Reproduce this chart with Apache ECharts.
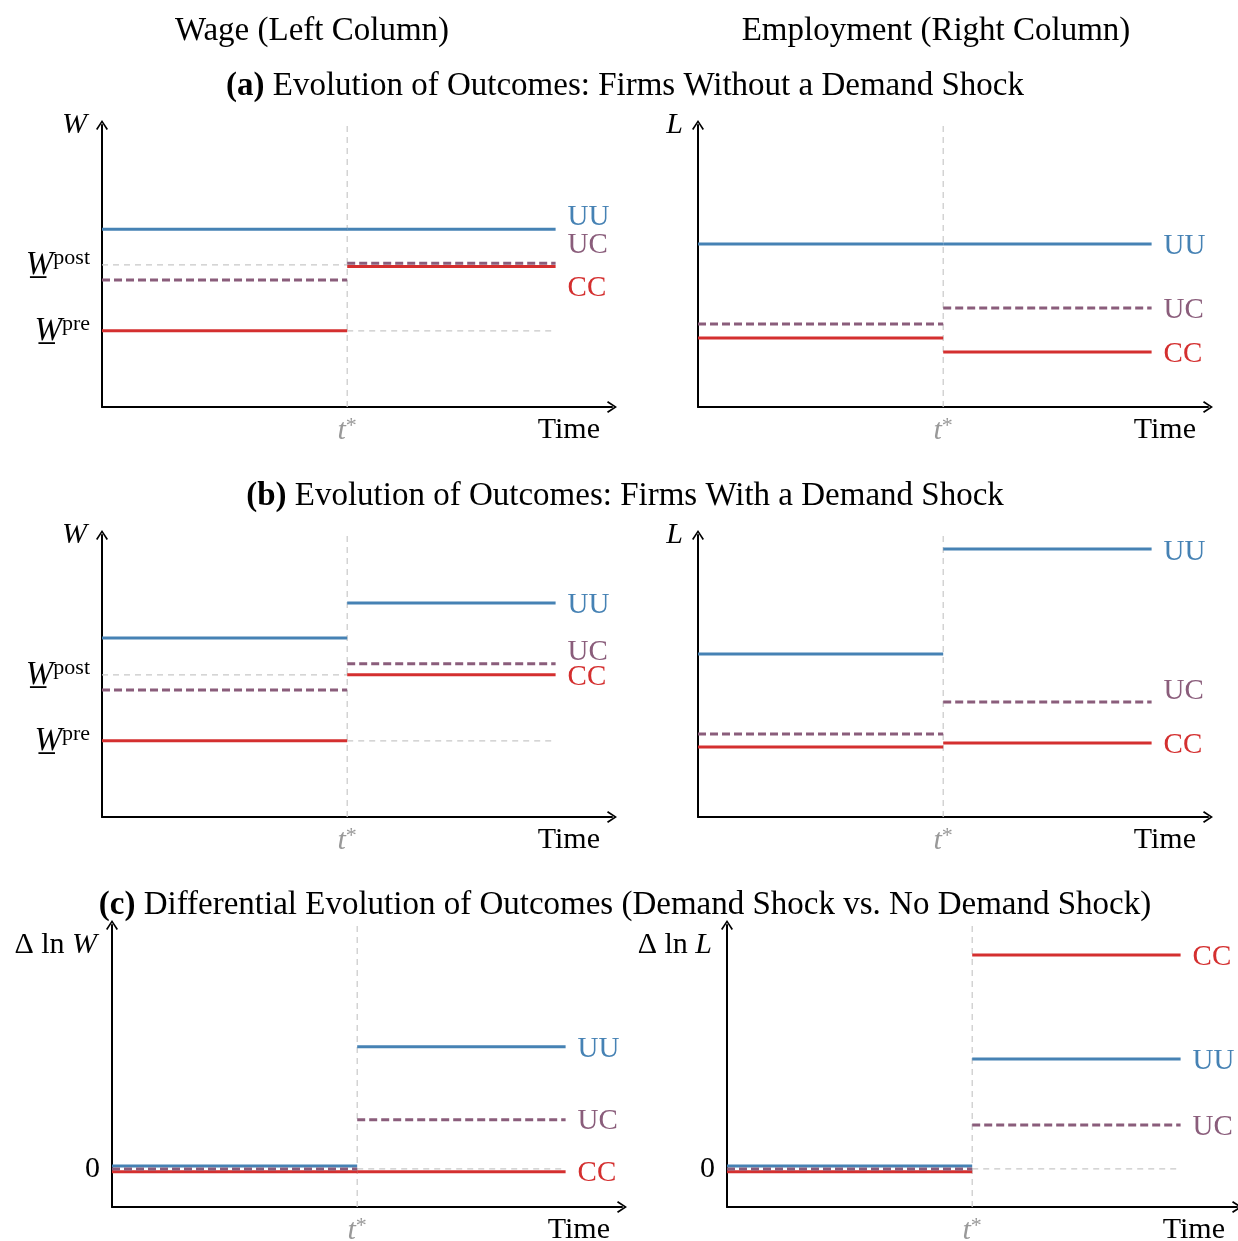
<!DOCTYPE html>
<html><head><meta charset="utf-8">
<script src="https://cdn.jsdelivr.net/npm/echarts@6/dist/echarts.min.js"></script>
<style>html,body{margin:0;padding:0;background:#fff}#c{width:1238px;height:1241px}</style>
</head><body><div id="c"></div>
<script>
// ---------- DATA ----------
// time positions: start, treatment date t*, end of drawn lines, end of axis
const tStart = 0, tStar = 1, tEnd = 1.85, tAxisMax = 2.08;
const lineNames = ['UU', 'UC', 'CC'];
// Each array: [pre-t* level, post-t* level]
// (a) firms without a demand shock
const wageNoShockUU = [6.3, 6.3];
const wageNoShockUC = [4.5, 5.1];
const wageNoShockCC = [2.7, 4.98];
const wageNoShockRef = [2.7, 5.04];   // W_pre, W_post
const empNoShockUU = [5.78, 5.78];
const empNoShockUC = [2.94, 3.51];
const empNoShockCC = [2.45, 1.95];
// (b) firms with a demand shock
const wageShockUU = [6.35, 7.59];
const wageShockUC = [4.5, 5.43];
const wageShockCC = [2.7, 5.04];
const wageShockRef = [2.7, 5.04];     // W_pre, W_post
const empShockUU = [5.78, 9.5];
const empShockUC = [2.94, 4.08];
const empShockCC = [2.48, 2.62];
// (c) differential evolution
const wageDiffUU = [0.1, 4.33];
const wageDiffUC = [0, 1.74];
const wageDiffCC = [-0.1, -0.1];
const empDiffUU = [0.1, 3.9];
const empDiffUC = [0, 1.56];
const empDiffCC = [-0.1, 7.59];
const zeroRef = [0];
// titles
const colTitles = ['Wage (Left Column)', 'Employment (Right Column)'];
const panelTitles = [
  ['(a)', ' Evolution of Outcomes: Firms Without a Demand Shock'],
  ['(b)', ' Evolution of Outcomes: Firms With a Demand Shock'],
  ['(c)', ' Differential Evolution of Outcomes (Demand Shock vs. No Demand Shock)']
];

// ---------- STYLE ----------
const FONT = '"Liberation Serif", "Times New Roman", serif';
const COL = { UU: '#4682b4', UC: '#8a5d7b', CC: '#d42f2f' };
const GREY = '#c8c8c8';
const ARROW = 'path://M0,9 L6,0 L12,9 L10.6,10 L6,2.8 L1.4,10 Z';
const LBL = 29;
const TFS = 33;

const panels = [
  { left: 102, top: 125, ymin: 0, ymax: 10, name: '{i|W}', nameGap: 0, vals: { UU: wageNoShockUU, UC: wageNoShockUC, CC: wageNoShockCC },
    wref: wageNoShockRef, dy: { UU: -12, UC: -18, CC: 22 } },
  { left: 698, top: 125, ymin: 0, ymax: 10, name: '{i|L}', nameGap: 0, vals: { UU: empNoShockUU, UC: empNoShockUC, CC: empNoShockCC },
    dy: { UU: 2, UC: 2, CC: 2 } },
  { left: 102, top: 535, ymin: 0, ymax: 10, name: '{i|W}', nameGap: 0, vals: { UU: wageShockUU, UC: wageShockUC, CC: wageShockCC },
    wref: wageShockRef, dy: { UU: 2, UC: -11, CC: 3 } },
  { left: 698, top: 535, ymin: 0, ymax: 10, name: '{i|L}', nameGap: 0, vals: { UU: empShockUU, UC: empShockUC, CC: empShockCC },
    dy: { UU: 3, UC: -11, CC: 2 } },
  { left: 112, top: 925, ymin: -1.35, ymax: 8.65, name: '{u|Δ ln }{i|W}', nameGap: -20, vals: { UU: wageDiffUU, UC: wageDiffUC, CC: wageDiffCC },
    zero: true, dy: { UU: 3, UC: 2, CC: 2 } },
  { left: 727, top: 925, ymin: -1.35, ymax: 8.65, name: '{u|Δ ln }{i|L}', nameGap: -20, vals: { UU: empDiffUU, UC: empDiffUC, CC: empDiffCC },
    zero: true, dy: { UU: 2, UC: 2, CC: 2 } }
];

const richBase = {
  i: { fontFamily: FONT, fontSize: LBL + 1, fontStyle: 'italic', color: '#000' },
  u: { fontFamily: FONT, fontSize: LBL + 1, color: '#000' },
  w: { fontFamily: FONT, fontSize: 33, fontStyle: 'italic', color: '#000', lineHeight: 36 },
  s: { fontFamily: FONT, fontSize: 22, color: '#000', verticalAlign: 'top', lineHeight: 24 },
  t: { fontFamily: FONT, fontSize: LBL + 1, fontStyle: 'italic', color: '#999', lineHeight: 32 },
  st: { fontFamily: FONT, fontSize: 22, color: '#999', verticalAlign: 'top', lineHeight: 24 }
};

const grids = [], xAxes = [], yAxes = [], series = [];
panels.forEach((p, i) => {
  grids.push({ left: p.left, top: p.top, width: 510, height: 282, containLabel: false, outerBoundsMode: 'none' });
  const axisLine = { onZero: false, lineStyle: { color: '#000', width: 2 }, symbol: ['none', ARROW], symbolSize: [13, 10] };
  xAxes.push({
    gridIndex: i, type: 'value', min: 0, max: tAxisMax, splitLine: { show: false }, axisTick: { show: false }, axisLine,
    axisLabel: { customValues: [tStar], formatter: () => '{t|t}{st|*}', margin: 8, rich: richBase },
    name: 'Time', nameLocation: 'end', nameGap: -12,
    nameTextStyle: { align: 'right', verticalAlign: 'top', padding: [8, 0, 0, 0], fontFamily: FONT, fontSize: LBL + 1, color: '#000' }
  });
  let labelVals = [], fmt = () => '';
  if (p.wref) {
    labelVals = p.wref.slice();
    fmt = v => (Math.abs(v - p.wref[1]) < 1e-9 ? '{w|W\u0332}{s|post}' : '{w|W\u0332}{s|pre}');
  } else if (p.zero) {
    labelVals = zeroRef.slice();
    fmt = () => '{u|0}';
  }
  yAxes.push({
    gridIndex: i, type: 'value', min: p.ymin, max: p.ymax, splitLine: { show: false }, axisTick: { show: false }, axisLine,
    axisLabel: { show: labelVals.length > 0, customValues: labelVals, formatter: fmt, margin: 12, rich: richBase },
    name: p.name, nameLocation: 'end', nameGap: p.nameGap,
    nameTextStyle: { align: 'right', verticalAlign: 'middle', padding: [0, 15, 0, 0], rich: richBase }
  });
  const ref = (data) => ({
    type: 'line', xAxisIndex: i, yAxisIndex: i, data, symbol: 'none', silent: true, animation: false, z: 1,
    lineStyle: { color: GREY, width: 1.2, type: [6, 5] }
  });
  // vertical t* line
  series.push(ref([[tStar, p.ymin], [tStar, p.ymax]]));
  if (p.wref) {
    series.push(ref([[tStart, p.wref[1]], [tStar, p.wref[1]]]));
    series.push(ref([[tStar, p.wref[0]], [tEnd, p.wref[0]]]));
  }
  if (p.zero) series.push(ref([[tStar, zeroRef[0]], [tEnd, zeroRef[0]]]));
  ['UU', 'CC', 'UC'].forEach(k => {
    const v = p.vals[k];
    const ls = { color: COL[k], width: 3, type: k === 'UC' ? [8, 4] : 'solid' };
    series.push({ type: 'line', name: k, xAxisIndex: i, yAxisIndex: i, data: [[tStart, v[0]], [tStar, v[0]]],
      symbol: 'none', showSymbol: false, silent: true, animation: false, z: 3, lineStyle: ls });
    series.push({ type: 'line', name: k, xAxisIndex: i, yAxisIndex: i, data: [[tStar, v[1]], [tEnd, v[1]]],
      symbol: 'none', showSymbol: false, silent: true, animation: false, z: 3, lineStyle: ls,
      endLabel: { show: true, formatter: k, color: COL[k], fontFamily: FONT, fontSize: LBL, distance: 12, offset: [0, p.dy[k]] } });
  });
});

const graphic = [
  { type: 'text', x: 312, y: 31, style: { text: colTitles[0], fontFamily: FONT, fontSize: TFS, fill: '#000', align: 'center', verticalAlign: 'middle' } },
  { type: 'text', x: 936, y: 31, style: { text: colTitles[1], fontFamily: FONT, fontSize: TFS, fill: '#000', align: 'center', verticalAlign: 'middle' } }
];
const titleY = [86, 496, 905];
panelTitles.forEach((t, j) => {
  graphic.push({ type: 'text', x: 625, y: titleY[j], style: {
    text: '{b|' + t[0] + '}{r|' + t[1] + '}', align: 'center', verticalAlign: 'middle', fontFamily: FONT, fontSize: TFS,
    rich: { b: { fontFamily: FONT, fontSize: TFS, fontWeight: 'bold', fill: '#000' }, r: { fontFamily: FONT, fontSize: TFS, fill: '#000' } }
  } });
});

const chart = echarts.init(document.getElementById('c'));
chart.setOption({
  animation: false,
  backgroundColor: '#fff',
  grid: grids, xAxis: xAxes, yAxis: yAxes, series, graphic
});
</script></body></html>
